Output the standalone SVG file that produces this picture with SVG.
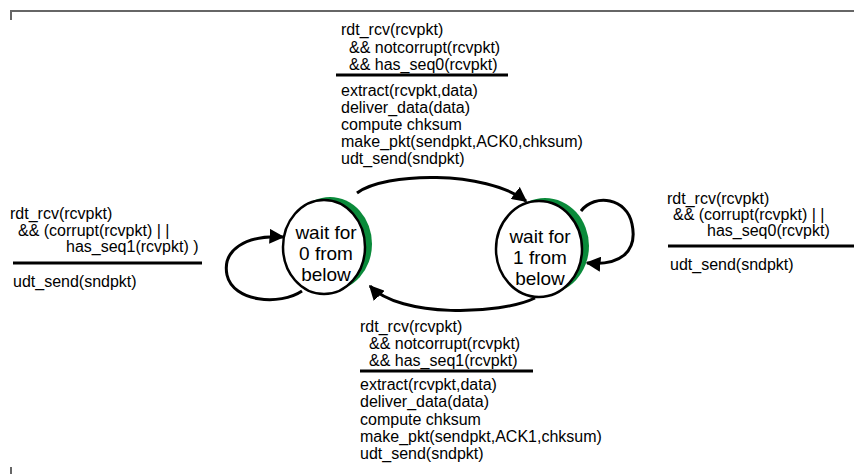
<svg xmlns="http://www.w3.org/2000/svg" width="854" height="474" viewBox="0 0 854 474">
<defs>
<style>
.t{font-family:"Liberation Sans",Arial,sans-serif;font-size:16px;fill:#000}
.s{font-family:"Liberation Sans",Arial,sans-serif;font-size:19px;fill:#000;text-anchor:middle}
.c{fill:none;stroke:#000;stroke-width:3}
.bar{stroke:#000;stroke-width:3}
.st{fill:#fff;stroke:#000;stroke-width:2.5}
.gr{fill:#0a8a3a}
</style>
<marker id="ah" viewBox="0 0 10 10" refX="9" refY="5" markerWidth="5" markerHeight="5" orient="auto" markerUnits="strokeWidth">
<path d="M0,0 L10,5 L0,10 z" fill="#000"/>
</marker>
</defs>
<rect width="854" height="474" fill="#fff"/>
<g id="frame">
<path d="M11,20 V11 H854" fill="none" stroke="#666" stroke-width="2"/>
<path d="M11,467 V474" fill="none" stroke="#666" stroke-width="2"/>
</g>
<g id="connectors">
<path class="c" d="M357,193 C385,172 485,170 526,201" marker-end="url(#ah)"/>
<path class="c" d="M535,298 C500,315 400,318 370,286" marker-end="url(#ah)"/>
<path class="c" d="M302,291 C280,306 233,302 227,275 C222,250 245,235 283,237" marker-end="url(#ah)"/>
<path class="c" d="M581,211 C595,193 627,198 632,224 C638,252 620,266 587,263" marker-end="url(#ah)"/>
</g>
<g id="state0">
<ellipse class="gr" cx="330" cy="244" rx="42" ry="47"/>
<ellipse class="st" cx="324" cy="247" rx="41" ry="47"/>
<text class="s" x="326" y="239">wait for</text>
<text class="s" x="326" y="260">0 from</text>
<text class="s" x="326" y="281">below</text>
</g>
<g id="state1">
<ellipse class="gr" cx="545" cy="246" rx="44" ry="48"/>
<ellipse class="st" cx="539" cy="249" rx="43" ry="48"/>
<text class="s" x="540" y="243">wait for</text>
<text class="s" x="540" y="264">1 from</text>
<text class="s" x="540" y="285">below</text>
</g>
<g id="label-top">
<text class="t" x="341" y="35">rdt_rcv(rcvpkt)</text>
<text class="t" x="349" y="53">&amp;&amp; notcorrupt(rcvpkt)</text>
<text class="t" x="349" y="70">&amp;&amp; has_seq0(rcvpkt)</text>
<line class="bar" x1="336" y1="75" x2="508" y2="75"/>
<text class="t" x="341" y="96">extract(rcvpkt,data)</text>
<text class="t" x="341" y="113">deliver_data(data)</text>
<text class="t" x="341" y="130">compute chksum</text>
<text class="t" x="341" y="147">make_pkt(sendpkt,ACK0,chksum)</text>
<text class="t" x="341" y="164">udt_send(sndpkt)</text>
</g>
<g id="label-left">
<text class="t" x="10" y="219">rdt_rcv(rcvpkt)</text>
<text class="t" x="18" y="236">&amp;&amp; (corrupt(rcvpkt) | |</text>
<text class="t" x="66" y="252">has_seq1(rcvpkt) )</text>
<line class="bar" x1="13" y1="263" x2="202" y2="263"/>
<text class="t" x="13" y="287">udt_send(sndpkt)</text>
</g>
<g id="label-right">
<text class="t" x="667" y="204">rdt_rcv(rcvpkt)</text>
<text class="t" x="673" y="220">&amp;&amp; (corrupt(rcvpkt) | |</text>
<text class="t" x="707" y="236">has_seq0(rcvpkt)</text>
<line class="bar" x1="668" y1="246" x2="854" y2="246"/>
<text class="t" x="670" y="270">udt_send(sndpkt)</text>
</g>
<g id="label-bottom">
<text class="t" x="360" y="332">rdt_rcv(rcvpkt)</text>
<text class="t" x="369" y="349">&amp;&amp; notcorrupt(rcvpkt)</text>
<text class="t" x="369" y="366">&amp;&amp; has_seq1(rcvpkt)</text>
<line class="bar" x1="360" y1="371" x2="533" y2="371"/>
<text class="t" x="360" y="390">extract(rcvpkt,data)</text>
<text class="t" x="360" y="407">deliver_data(data)</text>
<text class="t" x="360" y="425">compute chksum</text>
<text class="t" x="360" y="442">make_pkt(sendpkt,ACK1,chksum)</text>
<text class="t" x="360" y="459">udt_send(sndpkt)</text>
</g>
</svg>
